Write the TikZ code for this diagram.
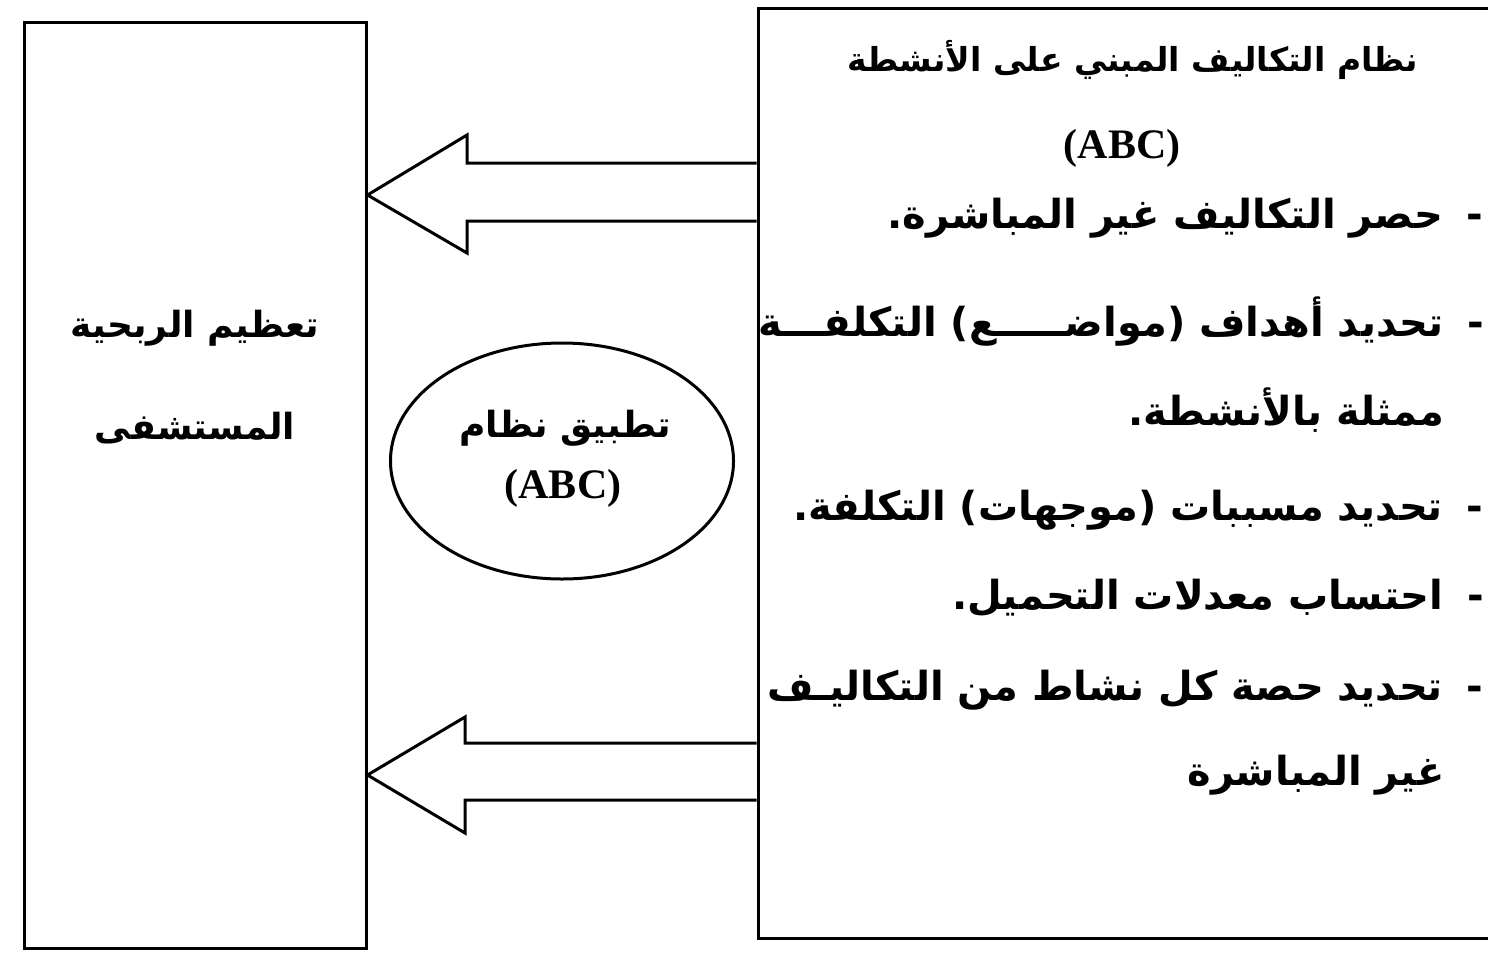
\documentclass[tikz,border=0pt]{standalone}
\usepackage{fontspec}
\TeXXeTstate=1
\newfontfamily\arabicfont[Script=Arabic]{DejaVu Sans}
\newfontfamily\latinserif{Liberation Serif}
\usetikzlibrary{shapes.geometric}
\begin{document}
\begin{tikzpicture}[x=0.5pt,y=-0.5pt,
  frame/.style={draw,line width=1.5pt,inner sep=0pt},
  ar/.style={font=\arabicfont\bfseries\fontsize{20}{24}\selectfont,inner sep=0pt},
  artitle/.style={font=\arabicfont\bfseries\fontsize{16.5}{20}\selectfont,inner sep=0pt},
  arleft/.style={font=\arabicfont\bfseries\fontsize{18}{22}\selectfont,inner sep=0pt},
  abc/.style={font=\latinserif\bfseries\fontsize{21}{24}\selectfont,inner sep=0pt},
  bigarrow/.style={draw,line width=1.5pt,line join=miter}]
\useasboundingbox (0,0) rectangle (1488,954);
\clip (0,0) rectangle (1488,954);
% boxes
\node[frame,minimum width=171pt,minimum height=463pt] (L) at (195,485) {};
\node[frame,minimum width=371pt,minimum height=465pt] (R) at (1129,473) {};
\node[draw,ellipse,line width=1.5pt,minimum width=171.5pt,minimum height=118pt,inner sep=0pt] (E) at (562,461) {};
% left box text
\node[arleft] (l1) at (195,328) {\beginR تعظيم الربحية\endR};
\node[arleft] (l2) at (195,428) {\beginR المستشفى\endR};
% ellipse text
\node[arleft] (e1) at (565,428) {\beginR تطبيق نظام\endR};
\node[abc] (e2) at (563,488) {(ABC)};
% right box text
\node[artitle] (t1) at (1133,60) {\beginR نظام التكاليف المبني على الأنشطة\endR};
\node[abc] (t2) at (1122,148) {(ABC)};
\node[ar,anchor=east] (b1) at (1484,218) {\beginR -\hspace{12pt}حصر التكاليف غير المباشرة.\endR};
\node[ar,anchor=east] (b2) at (1484,322) {\beginR -\hspace{12pt}تحديد أهداف (مواضـــــع) التكلفـــة\endR};
\node[ar,anchor=east] (b2b) at (1445,410) {\beginR ممثلة بالأنشطة.\endR};
\node[ar,anchor=east] (b3) at (1484,510) {\beginR -\hspace{12pt}تحديد مسببات (موجهات) التكلفة.\endR};
\node[ar,anchor=east] (b4) at (1484,598) {\beginR -\hspace{12pt}احتساب معدلات التحميل.\endR};
\node[ar,anchor=east] (b5) at (1484,690) {\beginR -\hspace{12pt}تحديد حصة كل نشاط من التكاليـف\endR};
\node[ar,anchor=east] (b5b) at (1445,775) {\beginR غير المباشرة\endR};
% arrows (block arrows from right box to left box)
\coordinate (a1t) at (L.east |- 0,195);
\coordinate (a2t) at (L.east |- 0,775);
\draw[bigarrow] (R.west |- 0,163) -- (467,163) -- (467,135) -- (a1t) -- (467,253) -- (467,221) -- (R.west |- 0,221);
\draw[bigarrow] (R.west |- 0,743) -- (465,743) -- (465,717) -- (a2t) -- (465,833) -- (465,800) -- (R.west |- 0,800);
\end{tikzpicture}
\end{document}
